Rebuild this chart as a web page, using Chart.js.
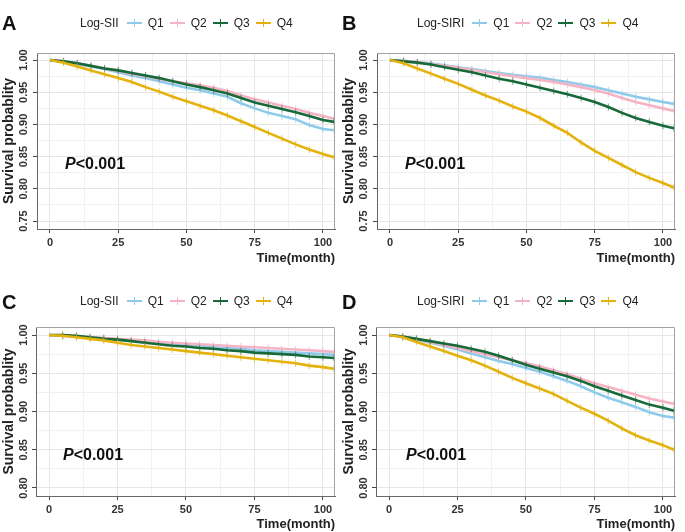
<!DOCTYPE html>
<html>
<head>
<meta charset="utf-8">
<script src="https://cdn.jsdelivr.net/npm/chart.js@4.4.1/dist/chart.umd.min.js"></script>
<style>
  html, body { margin: 0; padding: 0; background: #fff; }
  #wrap { position: relative; width: 685px; height: 532px; overflow: hidden;
          font-family: "Liberation Sans", Arial, sans-serif; }
  .panel { position: absolute; width: 340px; }
  .panel canvas { position: absolute; left: 0; top: 0; }
  .tag { position: absolute; font-weight: bold; font-size: 20px; line-height: 20px; color: #111; }
  .legend { position: absolute; display: flex; align-items: center; height: 14px;
            font-size: 12px; line-height: 14px; color: #222; white-space: nowrap; }
  .legend .ttl { margin-right: 8px; }
  .legend .sym { position: relative; width: 15px; height: 2px; margin-right: 6px; }
  .legend .sym::after { content: ""; position: absolute; left: 7px; top: -3px; width: 1px; height: 8px; background: inherit; }
  .legend .lab { margin-right: 6px; }
  .pval { position: absolute; font-weight: bold; font-size: 16px; line-height: 16px; color: #111; }
</style>
</head>
<body>
<div id="wrap"></div>
<script>
  // time points (months)
  const MONTHS = [0, 5, 10, 15, 20, 25, 30, 35, 40, 45, 50, 55, 60, 65, 70, 75, 80, 85, 90, 95, 100, 104];

  const GROUPS = ["Q1", "Q2", "Q3", "Q4"];
  const GROUP_COLORS = ["#8ECBEA", "#F5B4C4", "#17693A", "#E4B20C"];
  const TICK_COLORS = ["rgba(142,203,234,0.7)", "rgba(245,180,196,0.7)", "rgba(23,105,58,0.6)", "rgba(228,178,12,0.7)"];

  const X_MAJOR = [0, 25, 50, 75, 100];
  const X_MINOR = [12.5, 37.5, 62.5, 87.5];
  const Y_MAJOR_AB = [0.75, 0.8, 0.85, 0.9, 0.95, 1.0];
  const Y_MINOR_AB = [0.775, 0.825, 0.875, 0.925, 0.975];
  const Y_MAJOR_CD = [0.8, 0.85, 0.9, 0.95, 1.0];
  const Y_MINOR_CD = [0.825, 0.875, 0.925, 0.975];

  // A: Log-SII
  const A_Q1 = [1, 0.998, 0.994, 0.990, 0.986, 0.981, 0.976, 0.972, 0.967, 0.962, 0.957, 0.953, 0.948, 0.943, 0.933, 0.925, 0.918, 0.913, 0.908, 0.899, 0.893, 0.891];
  const A_Q2 = [1, 0.998, 0.995, 0.991, 0.987, 0.983, 0.979, 0.975, 0.971, 0.967, 0.964, 0.961, 0.957, 0.952, 0.945, 0.939, 0.934, 0.929, 0.924, 0.918, 0.913, 0.909];
  const A_Q3 = [1, 0.998, 0.995, 0.991, 0.987, 0.984, 0.980, 0.976, 0.972, 0.967, 0.962, 0.958, 0.953, 0.948, 0.941, 0.934, 0.929, 0.924, 0.919, 0.913, 0.907, 0.904];
  const A_Q4 = [1, 0.996, 0.990, 0.984, 0.978, 0.972, 0.966, 0.958, 0.951, 0.943, 0.936, 0.929, 0.922, 0.914, 0.905, 0.896, 0.887, 0.878, 0.869, 0.861, 0.854, 0.849];

  // B: Log-SIRI
  const B_Q1 = [1, 0.999, 0.997, 0.995, 0.992, 0.989, 0.986, 0.983, 0.980, 0.977, 0.975, 0.973, 0.969, 0.966, 0.962, 0.958, 0.953, 0.948, 0.943, 0.939, 0.935, 0.932];
  const B_Q2 = [1, 0.999, 0.997, 0.994, 0.991, 0.988, 0.985, 0.981, 0.978, 0.975, 0.972, 0.969, 0.966, 0.962, 0.958, 0.953, 0.948, 0.941, 0.935, 0.930, 0.925, 0.921];
  const B_Q3 = [1, 0.998, 0.996, 0.993, 0.989, 0.985, 0.981, 0.976, 0.971, 0.967, 0.962, 0.957, 0.952, 0.947, 0.941, 0.935, 0.927, 0.918, 0.910, 0.904, 0.898, 0.894];
  const B_Q4 = [1, 0.995, 0.987, 0.979, 0.971, 0.963, 0.954, 0.945, 0.937, 0.928, 0.920, 0.910, 0.898, 0.887, 0.872, 0.859, 0.848, 0.837, 0.826, 0.817, 0.809, 0.802];

  // C: Log-SII
  const C_Q1 = [1, 0.999, 0.998, 0.997, 0.996, 0.994, 0.993, 0.991, 0.990, 0.988, 0.987, 0.986, 0.984, 0.983, 0.982, 0.980, 0.979, 0.978, 0.977, 0.976, 0.975, 0.974];
  const C_Q2 = [1, 0.999, 0.998, 0.997, 0.996, 0.995, 0.994, 0.993, 0.991, 0.990, 0.989, 0.988, 0.987, 0.986, 0.985, 0.984, 0.983, 0.982, 0.981, 0.980, 0.979, 0.978];
  const C_Q3 = [1, 1.000, 0.999, 0.997, 0.995, 0.994, 0.992, 0.990, 0.988, 0.986, 0.985, 0.983, 0.982, 0.980, 0.979, 0.977, 0.976, 0.975, 0.974, 0.972, 0.971, 0.970];
  const C_Q4 = [1, 0.999, 0.997, 0.995, 0.993, 0.990, 0.987, 0.985, 0.983, 0.981, 0.979, 0.977, 0.975, 0.973, 0.971, 0.969, 0.967, 0.965, 0.963, 0.960, 0.958, 0.956];

  // D: Log-SIRI
  const D_Q1 = [1, 0.998, 0.994, 0.990, 0.986, 0.981, 0.976, 0.971, 0.966, 0.962, 0.957, 0.952, 0.946, 0.940, 0.933, 0.925, 0.918, 0.912, 0.906, 0.899, 0.894, 0.892];
  const D_Q2 = [1, 0.998, 0.995, 0.991, 0.987, 0.983, 0.979, 0.975, 0.971, 0.967, 0.963, 0.959, 0.954, 0.949, 0.943, 0.937, 0.932, 0.927, 0.922, 0.917, 0.913, 0.910];
  const D_Q3 = [1, 0.998, 0.995, 0.992, 0.989, 0.986, 0.982, 0.978, 0.973, 0.967, 0.961, 0.956, 0.951, 0.946, 0.940, 0.933, 0.927, 0.921, 0.915, 0.909, 0.905, 0.901];
  const D_Q4 = [1, 0.997, 0.991, 0.985, 0.979, 0.973, 0.967, 0.960, 0.952, 0.944, 0.937, 0.930, 0.923, 0.914, 0.905, 0.897, 0.888, 0.878, 0.869, 0.862, 0.856, 0.850];

  const FONT = '"Liberation Sans", Arial, sans-serif';
  const near = (v, list) => list.some((m) => Math.abs(m - v) < 1e-6);

  /** top/right panel border + rotated y tick labels */
  const framePlugin = {
    id: "frame",
    afterDraw(chart, args, opts) {
      const { ctx, chartArea: a } = chart;
      const y = chart.scales.y;
      ctx.save();
      ctx.strokeStyle = "#a3a3a3";
      ctx.lineWidth = 1;
      ctx.beginPath();
      ctx.moveTo(a.left, a.top + 0.5);
      ctx.lineTo(a.right - 0.5, a.top + 0.5);
      ctx.lineTo(a.right - 0.5, a.bottom);
      ctx.stroke();
      ctx.fillStyle = "#333";
      ctx.font = "bold 11px " + FONT;
      ctx.textAlign = "center";
      ctx.textBaseline = "middle";
      opts.major.forEach((v) => {
        const py = y.getPixelForValue(v);
        ctx.save();
        ctx.translate(opts.labelX, py);
        ctx.rotate(-Math.PI / 2);
        ctx.fillText(v.toFixed(2), 0, 0);
        ctx.restore();
      });
      ctx.restore();
    },
  };

  function makePanel(p) {
    const wrap = document.getElementById("wrap");
    const div = document.createElement("div");
    div.className = "panel";
    div.style.left = p.left + "px";
    div.style.top = p.top + "px";
    div.style.height = p.height + "px";
    wrap.appendChild(div);

    const canvas = document.createElement("canvas");
    canvas.width = 340;
    canvas.height = p.height;
    div.appendChild(canvas);

    const tag = document.createElement("div");
    tag.className = "tag";
    tag.textContent = p.tag;
    tag.style.left = "2px";
    tag.style.top = p.tagTop + "px";
    div.appendChild(tag);

    const leg = document.createElement("div");
    leg.className = "legend";
    leg.style.left = p.legLeft + "px";
    leg.style.top = p.legTop + "px";
    let html = '<span class="ttl">' + p.legendTitle + "</span>";
    GROUPS.forEach((g, i) => {
      html += '<span class="sym" style="background:' + GROUP_COLORS[i] + '"></span><span class="lab">' + g + "</span>";
    });
    leg.innerHTML = html;
    div.appendChild(leg);

    const pv = document.createElement("div");
    pv.className = "pval";
    pv.innerHTML = "<i>P</i>&lt;0.001";
    pv.style.left = p.pLeft + "px";
    pv.style.top = p.pTop + "px";
    div.appendChild(pv);

    const datasets = p.series.map((vals, i) => ({
      label: GROUPS[i],
      data: MONTHS.map((m, k) => ({ x: m, y: vals[k] })),
      borderColor: GROUP_COLORS[i],
      backgroundColor: GROUP_COLORS[i],
      borderWidth: 2.6,
      tension: 0,
      pointStyle: "line",
      rotation: 90,
      pointRadius: (c) => (c.dataIndex === 0 ? 0 : 3.5),
      pointBorderWidth: 1,
      pointBorderColor: TICK_COLORS[i],
      order: 3 - i,
      clip: 0,
    }));

    const yMajor = p.yMajor;
    const yTicks = p.yMajor.concat(p.yMinor);
    const xTicks = X_MAJOR.concat(X_MINOR);

    new Chart(canvas, {
      type: "line",
      data: { datasets },
      plugins: [framePlugin],
      options: {
        responsive: false,
        animation: false,
        events: [],
        layout: { padding: { top: p.padTop, right: 340 - p.plotRight, left: 0, bottom: 0 } },
        plugins: {
          legend: { display: false },
          tooltip: { enabled: false },
          frame: { major: yMajor, labelX: p.labelX },
        },
        scales: {
          x: {
            type: "linear",
            min: -4.75,
            max: 104.4,
            afterBuildTicks: (s) => { s.ticks = xTicks.map((v) => ({ value: v })); },
            afterFit: (s) => { s.height = p.xAxisH; },
            ticks: {
              color: "#333",
              font: { family: FONT, size: 11, weight: "bold" },
              padding: 3,
              maxRotation: 0,
              autoSkip: false,
              callback: (v) => (near(v, X_MAJOR) ? String(v) : ""),
            },
            grid: {
              color: (c) => (c.tick && near(c.tick.value, X_MAJOR) ? "#e6e6e6" : "#f1f1f1"),
              tickColor: (c) => (c.tick && near(c.tick.value, X_MAJOR) ? "#444" : "rgba(0,0,0,0)"),
              tickLength: 4,
            },
            border: { display: true, color: "#666", width: 1 },
            title: {
              display: true,
              text: "Time(month)",
              align: "end",
              color: "#222",
              font: { family: FONT, size: 13, weight: "bold" },
              padding: { top: p.xTitlePad, bottom: 0 },
            },
          },
          y: {
            type: "linear",
            min: p.yMin,
            max: p.yMax,
            afterBuildTicks: (s) => { s.ticks = yTicks.map((v) => ({ value: v })); },
            afterFit: (s) => { s.width = p.plotLeft; },
            ticks: { display: false },
            grid: {
              color: (c) => (c.tick && near(c.tick.value, yMajor) ? "#e6e6e6" : "#f1f1f1"),
              tickColor: (c) => (c.tick && near(c.tick.value, yMajor) ? "#444" : "rgba(0,0,0,0)"),
              tickLength: 4,
            },
            border: { display: true, color: "#666", width: 1 },
            title: {
              display: true,
              text: "Survival probablity",
              color: "#222",
              font: { family: FONT, size: 14, weight: "bold" },
              padding: { top: 1, bottom: 0 },
            },
          },
        },
      },
    });
  }

  const TOP_ROW = { top: 0, height: 266, padTop: 53, plotLeft: 37, plotRight: 338, xAxisH: 37, xTitlePad: 2,
    yMin: 0.7376, yMax: 1.011, yMajor: Y_MAJOR_AB, yMinor: Y_MINOR_AB, labelX: 24,
    tagTop: 13, legTop: 16, pTop: 156 };
  const BOTTOM_ROW = { top: 270, height: 262, padTop: 57, plotLeft: 36, plotRight: 336, xAxisH: 36, xTitlePad: 4,
    yMin: 0.7895, yMax: 1.0105, yMajor: Y_MAJOR_CD, yMinor: Y_MINOR_CD, labelX: 24,
    tagTop: 22, legTop: 24, pTop: 177 };

  makePanel({ ...TOP_ROW, left: 0, tag: "A", legendTitle: "Log-SII", legLeft: 80, pLeft: 65,
    series: [A_Q1, A_Q2, A_Q3, A_Q4] });
  makePanel({ ...TOP_ROW, left: 340, tag: "B", legendTitle: "Log-SIRI", legLeft: 77, pLeft: 65,
    series: [B_Q1, B_Q2, B_Q3, B_Q4] });
  makePanel({ ...BOTTOM_ROW, left: 0, tag: "C", legendTitle: "Log-SII", legLeft: 80, pLeft: 63,
    series: [C_Q1, C_Q2, C_Q3, C_Q4] });
  makePanel({ ...BOTTOM_ROW, left: 340, tag: "D", legendTitle: "Log-SIRI", legLeft: 77, pLeft: 66,
    series: [D_Q1, D_Q2, D_Q3, D_Q4] });
</script>
</body>
</html>
